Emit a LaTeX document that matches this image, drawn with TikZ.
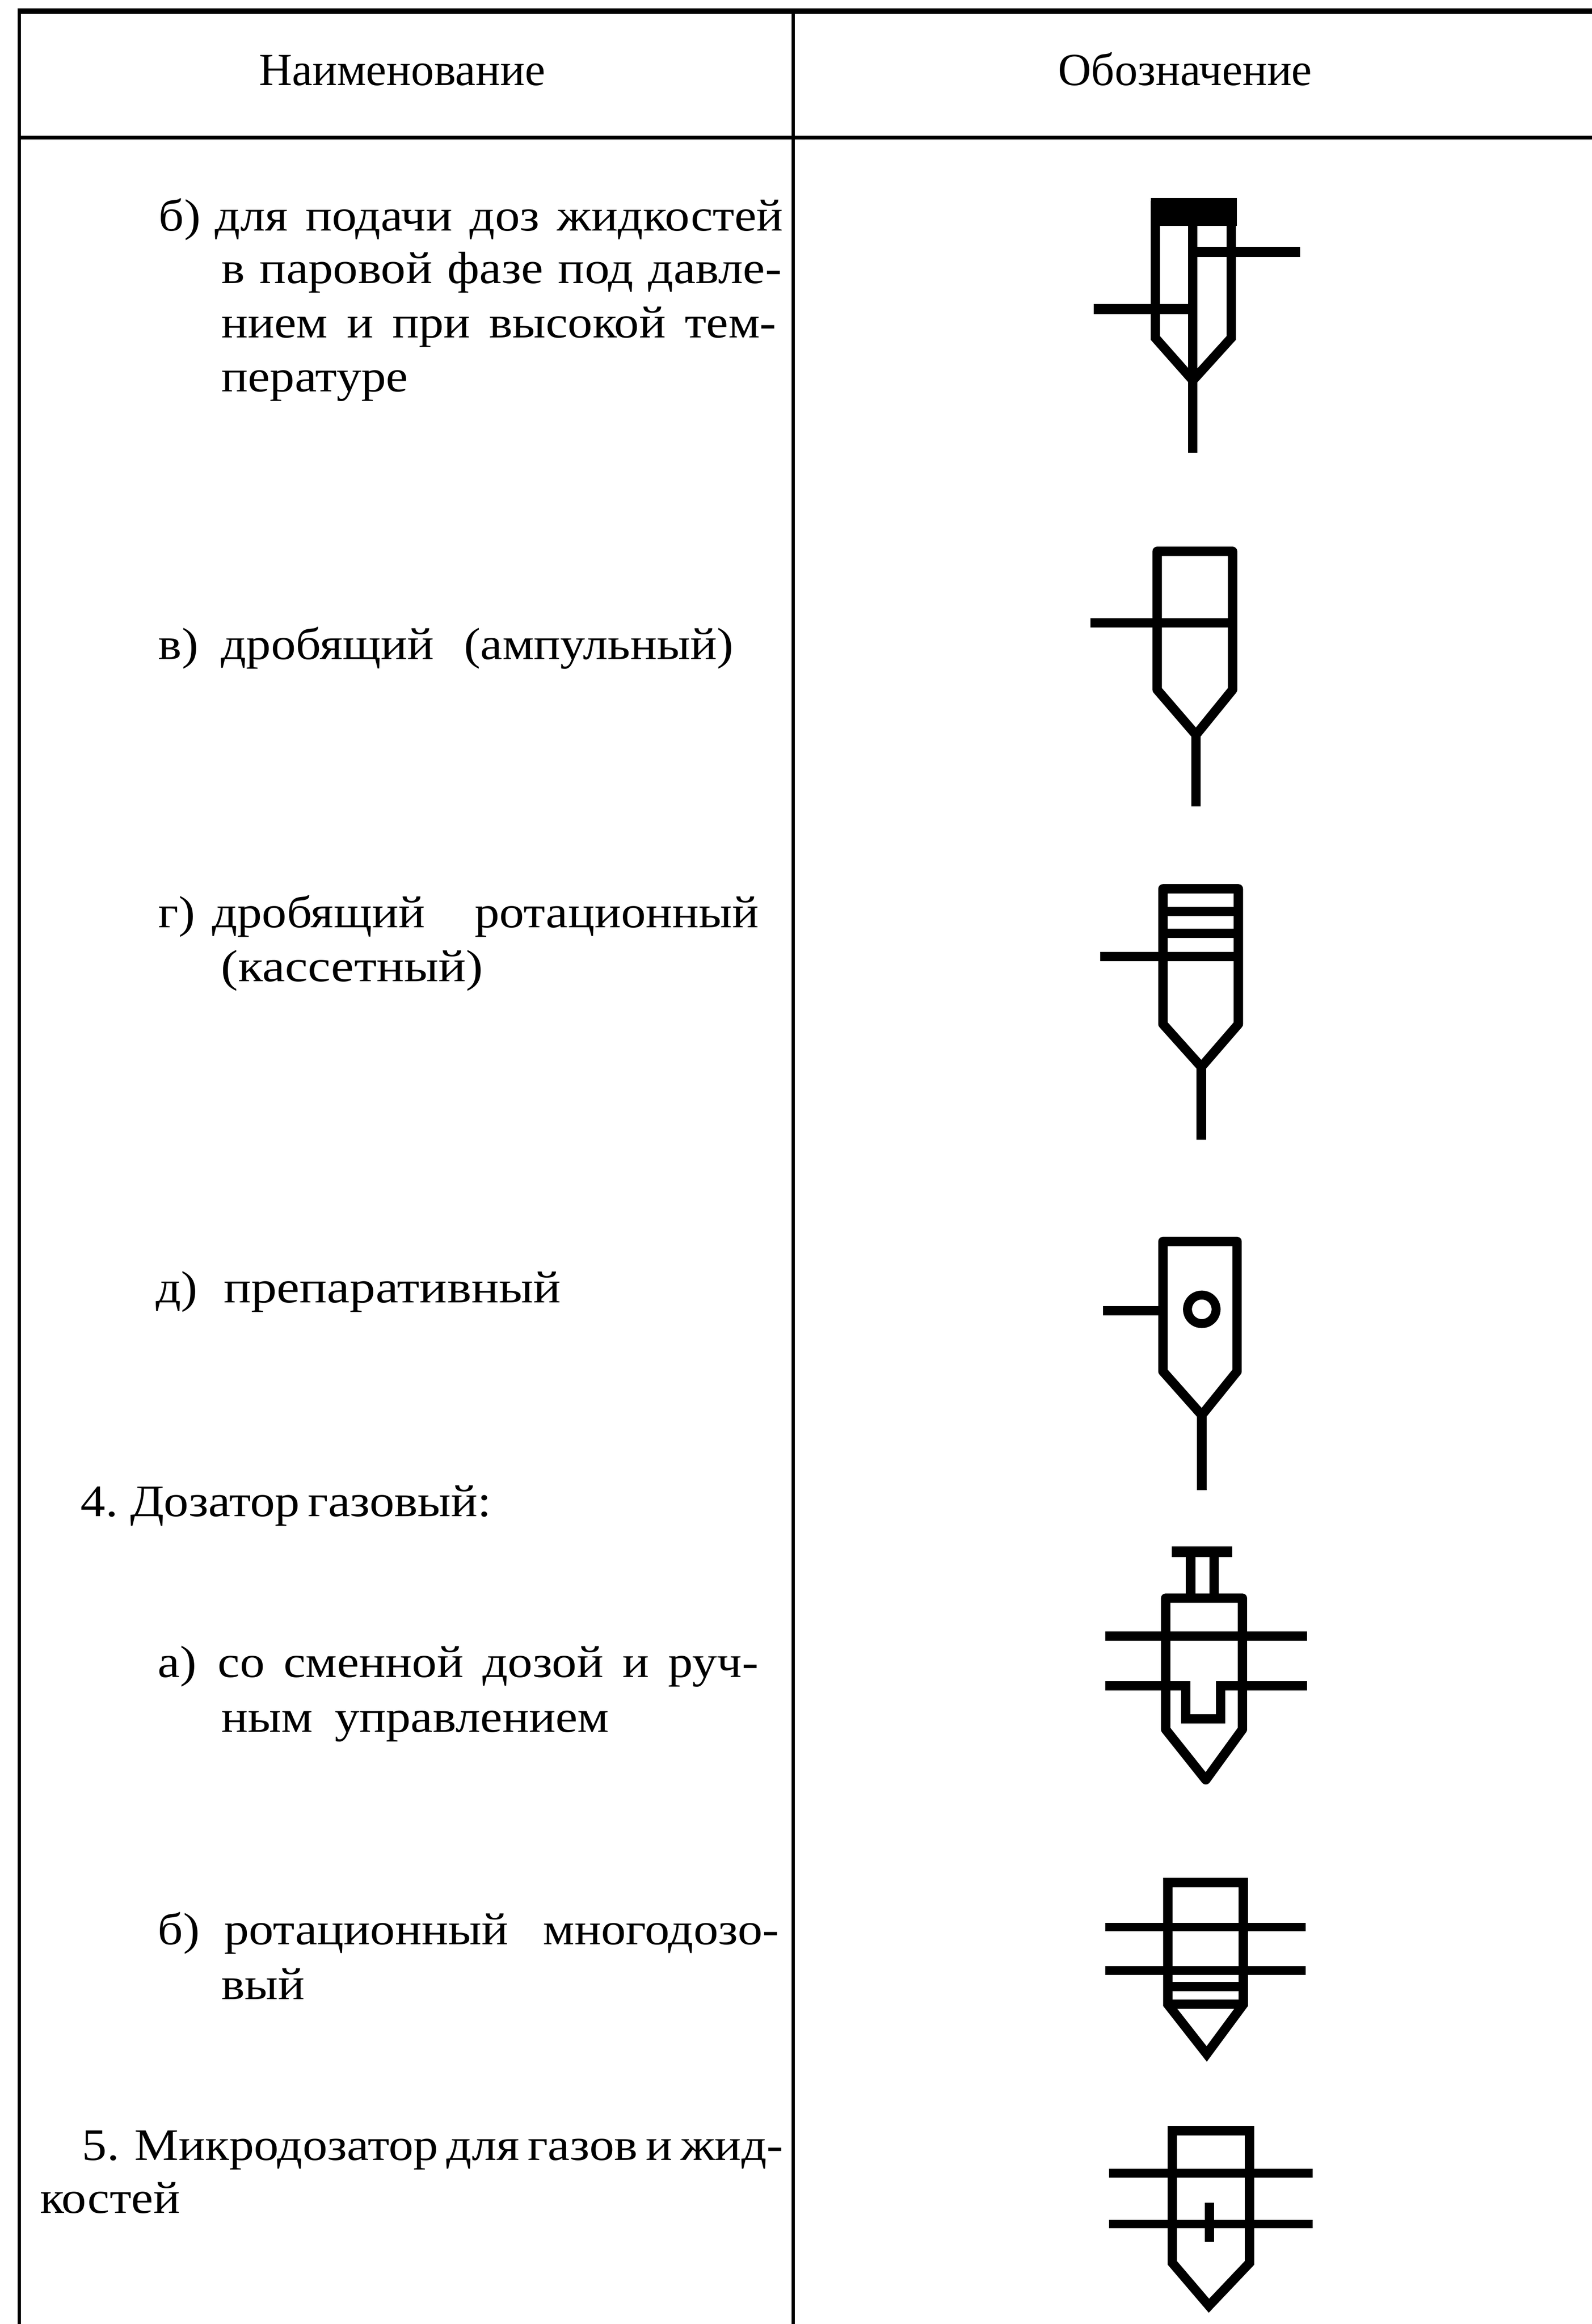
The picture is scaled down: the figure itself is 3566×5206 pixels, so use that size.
\documentclass[tikz,border=0pt]{standalone}
\usepackage{fontspec}
\setmainfont{Liberation Serif}
\newfontfamily\bodyfam[FakeStretch=1.1]{Liberation Serif}
\newfontfamily\widefam[FakeStretch=1.14]{Liberation Serif}
\hbadness=10000
\hfuzz=50pt
\newdimen\pxu \pxu=0.1pt
% one justified text line: name, x, baseline y, width in px (0.1pt), text
\newcommand{\tline}[5]{\node[txt] (#1) at (#2,#3) {\hbox to #4\pxu{#5}};}
\newcommand{\tfree}[4]{\node[txt] (#1) at (#2,#3) {#4};}
\newcommand{\lab}[2]{\hbox to #1\pxu{#2\hss}}
\newcommand{\wideset}{\widefam\fontsize{10.1pt}{12pt}\selectfont}
\tikzset{
  txt/.style={anchor=base west,inner sep=0pt,outer sep=0pt,font=\bodyfam\fontsize{10.1pt}{12pt}\selectfont},
  head/.style={anchor=base west,inner sep=0pt,outer sep=0pt,font=\fontsize{10.3pt}{12pt}\selectfont},
  sym/.style={draw=black,line width=2.1pt,line join=round,line cap=butt},
  symm/.style={draw=black,line width=2.1pt,line join=miter,line cap=butt},
  rule/.style={draw=black,line width=0.7pt}
}
\begin{document}
\begin{tikzpicture}[x=0.1pt,y=-0.1pt]
\fill[white] (0,0) rectangle (3566,5206);
\useasboundingbox (0,0) rectangle (3566,5206);
% table rules
\draw[rule,line width=1.2pt] (40,25) -- (3566,25);
\draw[rule,line width=0.8pt] (40,308) -- (3566,308);
\draw[rule] (43,22) -- (43,5206);
\draw[rule] (1777,25) -- (1777,5206);
% header
\node[head] (h1) at (580,191) {Наименование};
\node[head] (h2) at (2370,191) {Обозначение};
% left column
\tline{t1a}{356}{517}{1398}{\lab{126}{б)}для подачи доз жидкостей}
\tline{t1b}{496}{635}{1255}{в паровой фазе под давле-}
\tline{t1c}{496}{756}{1243}{нием и при высокой тем-}
\tfree{t1d}{496}{877}{пературе}
\tline{t2}{355}{1477}{1288}{\lab{140}{в)}дробящий (ампульный)}
\tline{t3a}{355}{2078}{1345}{\lab{120}{г)}дробящий ротационный}
\tfree{t3b}{495}{2198}{\wideset (кассетный)}
\tline{t4}{349}{2918}{906}{\lab{152}{д)}\wideset препаративный\hss}
\tfree{t5}{181}{3397}{\spaceskip=.18em 4. Дозатор газовый:}
\tline{t6a}{354}{3757}{1345}{\lab{134}{а)}со сменной дозой и руч-}
\tline{t6b}{496}{3880}{868}{ным управлением}
\tline{t7a}{354}{4356}{1391}{\lab{148}{б)}ротационный многодозо-}
\tfree{t7b}{496}{4479}{вый}
\tline{t8a}{184}{4839}{1567}{5. Микродозатор для газов и жид-}
\tfree{t8b}{90}{4958}{костей}
% symbol 1
\fill[black] (2578,444) rectangle (2771,506);
\draw[symm] (2588,450) -- (2588,757) -- (2672,852) -- (2758,757) -- (2758,450);
\draw[sym] (2672,450) -- (2672,1014);
\draw[sym,line width=2.3pt] (2450,692) -- (2672,692);
\draw[sym,line width=2.3pt] (2672,564) -- (2912,564);
% symbol 2
\draw[sym] (2592,1545) -- (2592,1235) -- (2761,1235) -- (2761,1545) -- (2679,1646) -- cycle;
\draw[sym] (2679,1646) -- (2679,1806);
\draw[sym] (2443,1395) -- (2761,1395);
% symbol 3
\draw[sym] (2605,2294) -- (2605,1991) -- (2774,1991) -- (2774,2294) -- (2691,2390) -- cycle;
\draw[sym] (2691,2390) -- (2691,2553);
\draw[sym] (2605,2042) -- (2774,2042);
\draw[sym] (2605,2091) -- (2774,2091);
\draw[sym] (2464,2143) -- (2774,2143);
% symbol 4
\draw[sym] (2605,3072) -- (2605,2781) -- (2771,2781) -- (2771,3072) -- (2692,3170) -- cycle;
\draw[sym] (2692,3170) -- (2692,3338);
\draw[sym] (2471,2936) -- (2605,2936);
\draw[sym,line width=2pt] (2692,2933) circle [radius=32];
% symbol 5
\draw[sym,line width=2.3pt] (2625,3476) -- (2760,3476);
\draw[sym] (2667,3476) -- (2667,3580);
\draw[sym] (2720,3476) -- (2720,3580);
\draw[sym] (2611,3874) -- (2611,3580) -- (2783,3580) -- (2783,3874) -- (2701,3987) -- cycle;
\draw[sym] (2476,3665) -- (2928,3665);
\draw[sym,line join=miter] (2476,3776) -- (2656,3776) -- (2656,3850) -- (2734,3850) -- (2734,3776) -- (2928,3776);
% symbol 6
\draw[symm] (2616,4490) -- (2616,4217) -- (2785,4217) -- (2785,4490) -- (2703,4601) -- cycle;
\draw[sym,line width=1.9pt] (2476,4317) -- (2925,4317);
\draw[sym,line width=1.9pt] (2476,4414) -- (2925,4414);
\draw[sym] (2616,4450) -- (2785,4450);
\draw[sym] (2616,4490) -- (2785,4490);
% symbol 7
\draw[symm] (2626,5069) -- (2626,4773) -- (2799,4773) -- (2799,5069) -- (2708,5165) -- cycle;
\draw[sym,line width=1.9pt] (2484,4868) -- (2940,4868);
\draw[sym,line width=1.9pt] (2484,4982) -- (2940,4982);
\draw[sym] (2709,4934) -- (2709,5022);
\end{tikzpicture}
\end{document}
